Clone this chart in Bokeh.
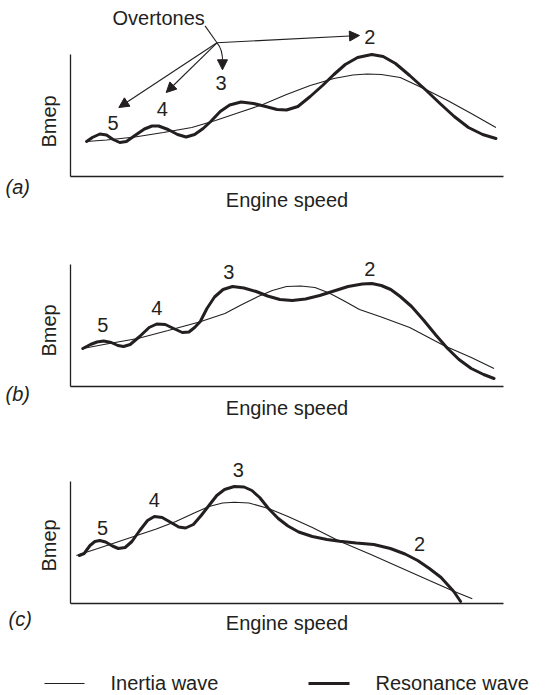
from math import pi
from bokeh.plotting import figure
from bokeh.layouts import column, row
from bokeh.models import Range1d, LinearAxis, FixedTicker, Arrow, NormalHead
from bokeh.embed import file_html
from bokeh.resources import INLINE
from bokeh.core.properties import value

FONT = "Liberation Sans"
FS = "20px"
INK = "#231f20"

# ---------------- data (engine speed / Bmep, arbitrary units) -------------
a_inertia_speed = [17, 38, 68, 98, 128, 153, 178, 203, 228, 253, 278, 298, 313, 328, 348, 375, 398, 423, 449]
a_inertia_bmep = [35, 36.5, 39.5, 44, 49, 56, 64, 72, 82, 91, 98, 101.5, 102.5, 102, 99, 87, 76, 63, 49]
a_resonance_speed = [17, 23, 31, 38, 45, 52, 59, 68, 78, 86, 93, 103, 113, 122, 131, 140, 148, 158, 168, 180,
                     193, 206, 218, 228, 240, 253, 266, 278, 290, 303, 318, 330, 343, 358, 375, 390, 405, 420, 435, 449]
a_resonance_bmep = [35, 39, 42.5, 41.5, 37, 34, 35, 41, 47.5, 50.5, 50.5, 47, 42, 39.5, 42, 48, 55, 65, 71.5, 74.5,
                    73, 70, 67, 66.5, 70, 80, 91, 102, 112, 119, 122, 120, 113, 101, 86.5, 73, 60, 49, 42, 38]

b_inertia_speed = [13, 38, 71, 103, 136, 163, 181, 198, 213, 228, 243, 258, 273, 288, 305, 328, 358, 394, 423, 447]
b_inertia_bmep = [38, 42.5, 48, 56, 64.5, 73, 82, 90, 96, 100, 100.5, 99, 93.5, 86, 77, 69.5, 59, 41, 29, 18]
b_resonance_speed = [13, 21, 28, 35, 43, 50, 56, 63, 73, 83, 91, 100, 110, 118, 125, 131, 137, 144, 152, 161,
                     171, 183, 196, 208, 221, 234, 248, 263, 278, 293, 308, 318, 328, 338, 348, 360, 373, 386, 398, 410,
                     423, 436, 447]
b_resonance_bmep = [38, 42, 44.5, 45.5, 44, 41, 40, 42, 50, 59, 62.5, 62, 57.5, 54, 54.5, 59, 65, 78, 89.5, 97,
                    100, 98.5, 95, 90.5, 87, 86, 87.5, 91, 95.5, 100, 102.5, 103, 101, 97, 90, 80, 66, 51, 38, 27,
                    18, 12, 8]

c_inertia_speed = [6, 28, 48, 68, 88, 108, 128, 142, 156, 168, 183, 203, 223, 248, 276, 308, 338, 368, 393, 412]
c_inertia_bmep = [48, 55, 61.5, 68, 74.5, 82, 91, 97, 100.5, 101.3, 100.5, 95, 87, 76, 62.3, 49, 36, 23, 12.3, 4.7]
c_resonance_speed = [9, 14, 20, 25, 30, 36, 43, 49, 56, 63, 71, 79, 86, 94, 103, 111, 118, 126, 134, 142,
                     150, 158, 168, 178, 186, 194, 203, 213, 223, 234, 248, 263, 276, 293, 311, 328, 343, 356, 368, 380,
                     393, 400]
c_resonance_bmep = [48, 50, 58, 62, 63, 61.5, 57.5, 55, 56, 62, 73, 83, 87, 86, 81, 76.5, 75.5, 79, 88, 98,
                    108, 114, 117, 116.5, 113, 106, 95, 85, 77.5, 71.5, 67, 64, 62.3, 60.5, 59, 55, 49.5, 43, 35, 26,
                    12, 2]

overtone_names = ["5", "4", "3", "2"]
a_overtone_speed = [45, 97, 159, 316]
a_overtone_bmep = [54, 68, 94, 140]
b_overtone_speed = [34, 91, 167, 316]
b_overtone_bmep = [62, 78.5, 115, 118]
c_overtone_speed = [33, 86, 172, 358]
c_overtone_bmep = [76, 104, 134, 60]

panel_letters = ["(a)", "(b)", "(c)"]
legend_names = ["Inertia wave", "Resonance wave"]

# ---------------- layout geometry (pixels) ----------------
SIDE_W = 62          # strip holding the panel letters and the "Bmep" titles
TOTAL_W = 544
PANEL_W = TOTAL_W - SIDE_W
PANELS_H = 645


def make_panel(height, speed_max, frame_px_w, frame_h, axis_top, inertia, resonance,
               ov_x, ov_y, x_standoff):
    p = figure(width=PANEL_W, height=height, output_backend="svg", toolbar_location=None,
               x_range=Range1d(0, speed_max), y_range=Range1d(0, frame_h),
               x_axis_type=None, y_axis_type=None,
               min_border_left=8, min_border_right=PANEL_W - 8 - frame_px_w,
               min_border_top=0, min_border_bottom=height - frame_h)
    p.outline_line_color = None
    common = dict(ticker=FixedTicker(ticks=[]), major_tick_line_color=None,
                  minor_tick_line_color=None, major_label_text_font_size="0px",
                  axis_line_color=INK, axis_line_width=1.3,
                  axis_label_text_font=FONT, axis_label_text_font_size=FS,
                  axis_label_text_font_style="normal", axis_label_text_color=INK)
    xa = LinearAxis(axis_label="Engine speed", axis_label_standoff=x_standoff, **common)
    ya = LinearAxis(bounds=(0, axis_top), **common)
    p.add_layout(xa, "below")
    p.add_layout(ya, "left")

    p.line(inertia[0], inertia[1], line_width=1.1, line_color=INK)
    p.line(resonance[0], resonance[1], line_width=3, line_color=INK,
           line_join="round", line_cap="round")
    p.text(x=ov_x, y=ov_y, text=overtone_names, text_font=value(FONT),
           text_font_size=FS, text_color=INK, text_align="center", text_baseline="middle")
    return p


pa = make_panel(222, 457, 446, 176, 122,
                (a_inertia_speed, a_inertia_bmep), (a_resonance_speed, a_resonance_bmep),
                a_overtone_speed, a_overtone_bmep, 12)
pb = make_panel(206, 457, 446, 164, 122.5,
                (b_inertia_speed, b_inertia_bmep), (b_resonance_speed, b_resonance_bmep),
                b_overtone_speed, b_overtone_bmep, 10)
pc = make_panel(217, 444, 433, 175, 122,
                (c_inertia_speed, c_inertia_bmep), (c_resonance_speed, c_resonance_bmep),
                c_overtone_speed, c_overtone_bmep, 8)

# "Overtones" callout in panel (a)
pa.text(x=[93], y=[159], text=["Overtones"], text_font=value(FONT), text_font_size=FS,
        text_color=INK, text_align="center", text_baseline="middle")
ox, oy = 154.6, 133.7
pa.segment(x0=[142], y0=[150.6], x1=[ox], y1=[oy], line_color=INK, line_width=1.1)
head = dict(size=10, fill_color=INK, line_color=INK)
for tx, ty in [(305, 141), (101, 84), (51, 69)]:
    pa.add_layout(Arrow(end=NormalHead(**head), x_start=ox, y_start=oy, x_end=tx, y_end=ty,
                        line_color=INK, line_width=1.1))
pa.quadratic(x0=[ox], y0=[oy], x1=[160.4], y1=[114], cx=[161], cy=[127],
             line_color=INK, line_width=1.1)
pa.add_layout(Arrow(end=NormalHead(**head), x_start=160.4, y_start=115, x_end=160.4, y_end=106.7,
                    line_color=INK, line_width=1.1))

# side strip: panel letters and rotated "Bmep" titles (y measured downward from the top)
side = figure(width=SIDE_W, height=PANELS_H, output_backend="svg", toolbar_location=None,
              x_range=Range1d(0, SIDE_W), y_range=Range1d(PANELS_H, 0),
              x_axis_type=None, y_axis_type=None, min_border=0)
side.outline_line_color = None
side.text(x=[5, 5, 8], y=[186, 393, 618], text=panel_letters, text_font=value(FONT),
          text_font_size=FS, text_font_style="italic", text_color=INK,
          text_align="left", text_baseline="middle")
side.text(x=[48, 48, 48], y=[121, 330, 545], text=["Bmep"] * 3, angle=pi / 2,
          text_font=value(FONT), text_font_size=FS, text_color=INK,
          text_align="center", text_baseline="middle")

# legend strip
LEG_H = 48
pl = figure(width=TOTAL_W, height=LEG_H, output_backend="svg", toolbar_location=None,
            x_range=Range1d(0, TOTAL_W), y_range=Range1d(LEG_H, 0),
            x_axis_type=None, y_axis_type=None, min_border=0)
pl.outline_line_color = None
pl.segment(x0=[44], y0=[38], x1=[84], y1=[38], line_color=INK, line_width=1.1)
pl.segment(x0=[308], y0=[38], x1=[349], y1=[38], line_color=INK, line_width=3)
pl.text(x=[110, 375], y=[37, 37], text=legend_names, text_font=value(FONT), text_font_size=FS,
        text_color=INK, text_align="left", text_baseline="middle")

layout = column(row(side, column(pa, pb, pc, spacing=0), spacing=0), pl, spacing=0)
open("out.html", "w").write(file_html(layout, INLINE))
